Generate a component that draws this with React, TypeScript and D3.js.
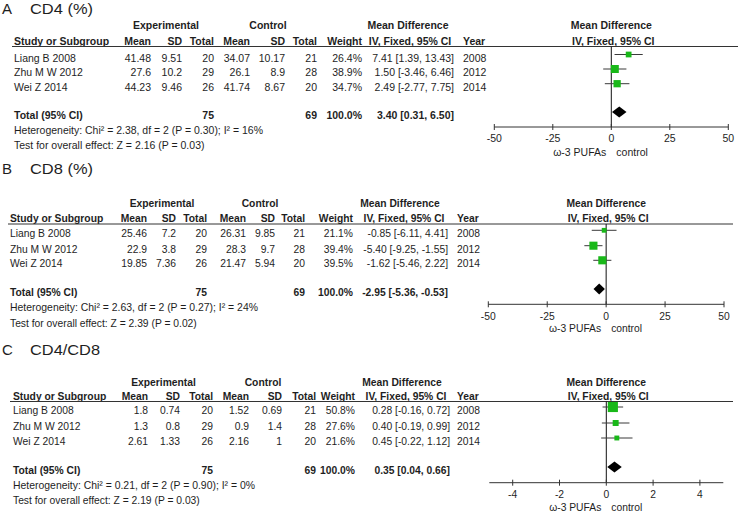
import React from "react";
import * as d3 from "d3";

// ---------- shared data ----------
const studies = ["Liang B 2008", "Zhu M W 2012", "Wei Z 2014"];
const years = ["2008", "2012", "2014"];
const expTotal = [20, 29, 26];
const ctlTotal = [21, 28, 20];
const expSum = 75;
const ctlSum = 69;

// ---------- A: CD4 (%) ----------
const cd4ExpMean = [41.48, 27.6, 44.23];
const cd4ExpSD = [9.51, 10.2, 9.46];
const cd4CtlMean = [34.07, 26.1, 41.74];
const cd4CtlSD = [10.17, 8.9, 8.67];
const cd4Weight = [26.4, 38.9, 34.7];
const cd4MD = [7.41, 1.5, 2.49];
const cd4Lo = [1.39, -3.46, -2.77];
const cd4Hi = [13.43, 6.46, 7.75];
const cd4Total = [3.4, 0.31, 6.5];
const cd4Het = "Heterogeneity: Chi² = 2.38, df = 2 (P = 0.30); I² = 16%";
const cd4Z = "Test for overall effect: Z = 2.16 (P = 0.03)";
const cd4Ticks = [-50, -25, 0, 25, 50];
const cd4Domain = [-50, 50];

// ---------- B: CD8 (%) ----------
const cd8ExpMean = [25.46, 22.9, 19.85];
const cd8ExpSD = [7.2, 3.8, 7.36];
const cd8CtlMean = [26.31, 28.3, 21.47];
const cd8CtlSD = [9.85, 9.7, 5.94];
const cd8Weight = [21.1, 39.4, 39.5];
const cd8MD = [-0.85, -5.4, -1.62];
const cd8Lo = [-6.11, -9.25, -5.46];
const cd8Hi = [4.41, -1.55, 2.22];
const cd8Total = [-2.95, -5.36, -0.53];
const cd8Het = "Heterogeneity: Chi² = 2.63, df = 2 (P = 0.27); I² = 24%";
const cd8Z = "Test for overall effect: Z = 2.39 (P = 0.02)";
const cd8Ticks = [-50, -25, 0, 25, 50];
const cd8Domain = [-50, 50];

// ---------- C: CD4/CD8 ----------
const ratioExpMean = [1.8, 1.3, 2.61];
const ratioExpSD = [0.74, 0.8, 1.33];
const ratioCtlMean = [1.52, 0.9, 2.16];
const ratioCtlSD = [0.69, 1.4, 1];
const ratioWeight = [50.8, 27.6, 21.6];
const ratioMD = [0.28, 0.4, 0.45];
const ratioLo = [-0.16, -0.19, -0.22];
const ratioHi = [0.72, 0.99, 1.12];
const ratioTotal = [0.35, 0.04, 0.66];
const ratioHet = "Heterogeneity: Chi² = 0.21, df = 2 (P = 0.90); I² = 0%";
const ratioZ = "Test for overall effect: Z = 2.19 (P = 0.03)";
const ratioTicks = [-4, -2, 0, 2, 4];
const ratioDomain = [-5, 5];

const FONT = "'Liberation Sans', Arial, Helvetica, sans-serif";
const INK = "#1e1e1e";
const GREEN = "#19b819";

type PanelData = {
  letter: string;
  title: string;
  expMean: number[];
  expSD: number[];
  ctlMean: number[];
  ctlSD: number[];
  weight: number[];
  md: number[];
  lo: number[];
  hi: number[];
  total: number[];
  het: string;
  z: string;
  ticks: number[];
  domain: number[];
};

type Layout = {
  fs: number;
  titleFs: number;
  titleW: number;
  studyX: number;
  cols: number[];
  effX: number;
  yearX: number;
  expHdrX: number;
  ctlHdrX: number;
  mdHdrX: number;
  ivHdrX: number;
  lineX0: number;
  lineX1: number;
  range: number[];
  titleY: number;
  expHdrY: number;
  hdrY: number;
  ulY: number;
  rows: number[];
  totalY: number;
  hetY: number;
  hetW: number;
  testY: number;
  axisY: number;
  tickY: number;
  footY: number;
};

const layoutA: Layout = {
  fs: 10.5, titleFs: 15, titleW: 63, studyX: 14,
  cols: [151, 182, 214, 250, 285, 317, 362],
  effX: 454, yearX: 463, expHdrX: 166, ctlHdrX: 268, mdHdrX: 408, ivHdrX: 410,
  lineX0: 12, lineX1: 738, range: [494.3, 728.3],
  titleY: 14, expHdrY: 29.3, hdrY: 45, ulY: 46.5,
  rows: [61.5, 76, 90.7], totalY: 119, hetY: 133.5, hetW: 249, testY: 149,
  axisY: 127, tickY: 141.7, footY: 156,
};
const layoutB: Layout = {
  fs: 10.3, titleFs: 15, titleW: 63, studyX: 10,
  cols: [147, 176, 207, 246, 275, 305, 353],
  effX: 448, yearX: 457, expHdrX: 162, ctlHdrX: 260, mdHdrX: 400, ivHdrX: 404,
  lineX0: 8, lineX1: 733, range: [488.3, 724],
  titleY: 173.5, expHdrY: 207.3, hdrY: 222.3, ulY: 224,
  rows: [237.3, 252.7, 267.3], totalY: 296, hetY: 311, hetW: 248, testY: 326.5,
  axisY: 304.3, tickY: 320, footY: 332,
};
const layoutC: Layout = {
  fs: 10.3, titleFs: 15, titleW: 70, studyX: 13,
  cols: [148, 180, 213, 249, 282, 316, 355],
  effX: 450, yearX: 457, expHdrX: 163.5, ctlHdrX: 263, mdHdrX: 402, ivHdrX: 406,
  lineX0: 10, lineX1: 733, range: [489.3, 723.3],
  titleY: 355, expHdrY: 385.7, hdrY: 400, ulY: 401.5,
  rows: [414, 430, 445], totalY: 474, hetY: 489, hetW: 242, testY: 504.3,
  axisY: 482.7, tickY: 498.3, footY: 510.5,
};

const panelA: PanelData = {
  letter: "A", title: "CD4 (%)", expMean: cd4ExpMean, expSD: cd4ExpSD, ctlMean: cd4CtlMean,
  ctlSD: cd4CtlSD, weight: cd4Weight, md: cd4MD, lo: cd4Lo, hi: cd4Hi, total: cd4Total,
  het: cd4Het, z: cd4Z, ticks: cd4Ticks, domain: cd4Domain,
};
const panelB: PanelData = {
  letter: "B", title: "CD8 (%)", expMean: cd8ExpMean, expSD: cd8ExpSD, ctlMean: cd8CtlMean,
  ctlSD: cd8CtlSD, weight: cd8Weight, md: cd8MD, lo: cd8Lo, hi: cd8Hi, total: cd8Total,
  het: cd8Het, z: cd8Z, ticks: cd8Ticks, domain: cd8Domain,
};
const panelC: PanelData = {
  letter: "C", title: "CD4/CD8", expMean: ratioExpMean, expSD: ratioExpSD, ctlMean: ratioCtlMean,
  ctlSD: ratioCtlSD, weight: ratioWeight, md: ratioMD, lo: ratioLo, hi: ratioHi, total: ratioTotal,
  het: ratioHet, z: ratioZ, ticks: ratioTicks, domain: ratioDomain,
};

const ci = (m: number, l: number, h: number) =>
  `${m.toFixed(2)} [${l.toFixed(2)}, ${h.toFixed(2)}]`;

const sizeScale = d3.scaleLinear().domain([0, 100]).range([1, 19]);

function Panel({ d, L }: { d: PanelData; L: Layout }) {
  const x = d3.scaleLinear().domain(d.domain).range(L.range);
  const x0 = x(0);
  const T = (props: any) => (
    <text fontFamily={FONT} fontSize={L.fs} fill={INK} {...props} />
  );
  const hdrs = ["Mean", "SD", "Total", "Mean", "SD", "Total", "Weight"];
  const diamond = d3.line()([
    [x(d.total[1]), L.totalY - 7],
    [x(d.total[0]), L.totalY - 7 - 5.5],
    [x(d.total[2]), L.totalY - 7],
    [x(d.total[0]), L.totalY - 7 + 5.5],
  ]) + "Z";
  return (
    <g>
      <text x={2} y={L.titleY} fontFamily={FONT} fontSize={L.titleFs} fill={INK}>{d.letter}</text>
      <text x={30} y={L.titleY} fontFamily={FONT} fontSize={L.titleFs} fill={INK}
        textLength={L.titleW} lengthAdjust="spacingAndGlyphs">{d.title}</text>

      <T x={L.expHdrX} y={L.expHdrY} textAnchor="middle" fontWeight="bold">Experimental</T>
      <T x={L.ctlHdrX} y={L.expHdrY} textAnchor="middle" fontWeight="bold">Control</T>
      <T x={L.mdHdrX} y={L.expHdrY} textAnchor="middle" fontWeight="bold">Mean Difference</T>
      <T x={x0} y={L.expHdrY} textAnchor="middle" fontWeight="bold">Mean Difference</T>

      <T x={L.studyX} y={L.hdrY} fontWeight="bold">Study or Subgroup</T>
      {hdrs.map((h, i) => (
        <T key={i} x={L.cols[i]} y={L.hdrY} textAnchor="end" fontWeight="bold">{h}</T>
      ))}
      <T x={L.ivHdrX} y={L.hdrY} textAnchor="middle" fontWeight="bold">IV, Fixed, 95% CI</T>
      <T x={L.yearX} y={L.hdrY} fontWeight="bold">Year</T>
      <T x={x0 + 2} y={L.hdrY} textAnchor="middle" fontWeight="bold">IV, Fixed, 95% CI</T>
      <line x1={L.lineX0} x2={L.lineX1} y1={L.ulY} y2={L.ulY} stroke="#333" strokeWidth={1} />

      {studies.map((s, i) => {
        const y = L.rows[i];
        const vals = [d.expMean[i], d.expSD[i], expTotal[i], d.ctlMean[i], d.ctlSD[i], ctlTotal[i]];
        return (
          <g key={s}>
            <T x={L.studyX} y={y}>{s}</T>
            {vals.map((v, j) => (
              <T key={j} x={L.cols[j]} y={y} textAnchor="end">{String(v)}</T>
            ))}
            <T x={L.cols[6]} y={y} textAnchor="end">{d.weight[i].toFixed(1) + "%"}</T>
            <T x={L.effX} y={y} textAnchor="end">{ci(d.md[i], d.lo[i], d.hi[i])}</T>
            <T x={L.yearX} y={y}>{years[i]}</T>
          </g>
        );
      })}

      <T x={L.studyX} y={L.totalY} fontWeight="bold">Total (95% CI)</T>
      <T x={L.cols[2]} y={L.totalY} textAnchor="end" fontWeight="bold">{String(expSum)}</T>
      <T x={L.cols[5]} y={L.totalY} textAnchor="end" fontWeight="bold">{String(ctlSum)}</T>
      <T x={L.cols[6]} y={L.totalY} textAnchor="end" fontWeight="bold">100.0%</T>
      <T x={L.effX} y={L.totalY} textAnchor="end" fontWeight="bold">{ci(d.total[0], d.total[1], d.total[2])}</T>
      <T x={L.studyX} y={L.hetY} textLength={L.hetW} lengthAdjust="spacingAndGlyphs">{d.het}</T>
      <T x={L.studyX} y={L.testY}>{d.z}</T>

      {/* forest plot */}
      <line x1={x0} x2={x0} y1={L.ulY} y2={L.axisY} stroke="#111" strokeWidth={1} />
      {studies.map((s, i) => {
        const cy = L.rows[i] - 7;
        const sz = sizeScale(d.weight[i]);
        return (
          <g key={s}>
            <line x1={x(d.lo[i])} x2={x(d.hi[i])} y1={cy} y2={cy} stroke="#3a3a3a" strokeWidth={1} />
            <rect x={x(d.md[i]) - sz / 2} y={cy - sz / 2} width={sz} height={sz} fill={GREEN} />
          </g>
        );
      })}
      <path d={diamond} fill="#000" />

      <line x1={L.range[0]} x2={L.range[1]} y1={L.axisY} y2={L.axisY} stroke="#333" strokeWidth={1} />
      {d.ticks.map((t) => (
        <g key={t}>
          <line x1={x(t)} x2={x(t)} y1={L.axisY - 3} y2={L.axisY + 3} stroke="#333" strokeWidth={1} />
          <T x={x(t)} y={L.tickY} textAnchor="middle">{String(t)}</T>
        </g>
      ))}
      <T x={x0 - 5} y={L.footY} textAnchor="end">ω-3 PUFAs</T>
      <T x={x0 + 5} y={L.footY}>control</T>
    </g>
  );
}

export default function App() {
  return (
    <svg
      width={739}
      height={512}
      style={{ position: "absolute", left: 0, top: 0, background: "#fff" }}
    >
      <rect x={0} y={0} width={739} height={512} fill="#fff" />
      <Panel d={panelA} L={layoutA} />
      <Panel d={panelB} L={layoutB} />
      <Panel d={panelC} L={layoutC} />
    </svg>
  );
}
